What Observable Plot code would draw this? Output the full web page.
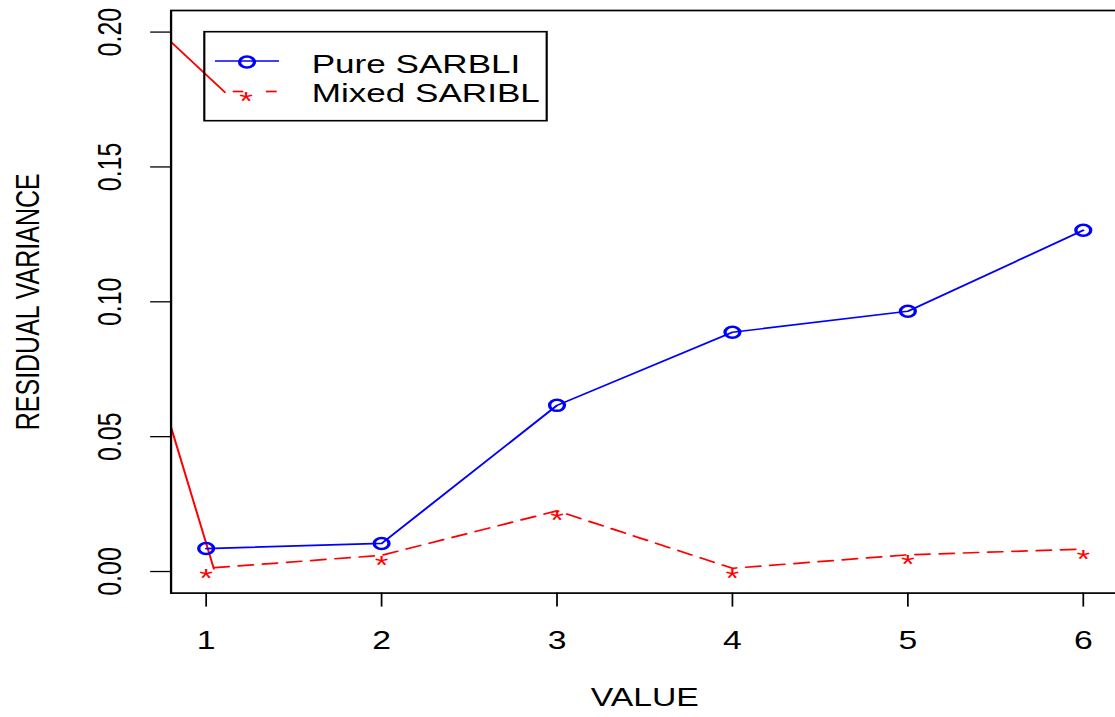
<!DOCTYPE html>
<html><head><meta charset="utf-8">
<script src="https://cdn.jsdelivr.net/npm/d3@7"></script>
<script src="https://cdn.jsdelivr.net/npm/@observablehq/plot@0.6"></script>
<style>html,body{margin:0;padding:0;background:#fff;overflow:hidden}</style>
</head><body><div id="chart"></div>
<script>
// ---- data ----
const xValues = [1, 2, 3, 4, 5, 6];
const pureSARBLI = [0.0085, 0.0104, 0.0616, 0.0887, 0.0965, 0.1265];
const mixedSARIBL = [0.0012, 0.0060, 0.0225, 0.0012, 0.0062, 0.0083];
const seriesNames = ["Pure SARBLI", "Mixed SARIBL"];
const xTicks = [1, 2, 3, 4, 5, 6];
const yTicks = [0.00, 0.05, 0.10, 0.15, 0.20];
// stray solid red segments visible in the original
const strayTopX = [0.8, 1.107];
const strayTopY = [0.1963, 0.1777];
const strayLowX = [0.8, 1.044];
const strayLowY = [0.0535, 0.0010];

// ---- build ----
const S = 1.35;            // horizontal stretch of the original image
const W = 1115 / S, H = 717;
const FONT = "'Liberation Sans', Arial, sans-serif";
const BLUE = "#0000ff", RED = "#ff0000";

const pure = xValues.map((x, i) => ({x, y: pureSARBLI[i]}));
const mixed = xValues.map((x, i) => ({x, y: mixedSARIBL[i]}));
const strayTop = strayTopX.map((x, i) => ({x, y: strayTopY[i]}));
const strayLow = strayLowX.map((x, i) => ({x, y: strayLowY[i]}));

const plot = Plot.plot({
  width: W, height: H,
  marginLeft: 170.4 / S, marginRight: W - 1117.7 / S,
  marginTop: 10, marginBottom: H - 592.6,
  x: {domain: [0.8, 6.2]},
  y: {domain: [-0.008, 0.208]},
  style: {fontFamily: FONT, fontSize: "25px", color: "black", background: "white"},
  marks: [
    Plot.line(strayTop, {x: "x", y: "y", stroke: RED, strokeWidth: 1.5}),
    Plot.line(strayLow, {x: "x", y: "y", stroke: RED, strokeWidth: 1.5}),
    Plot.line(pure, {x: "x", y: "y", stroke: BLUE, strokeWidth: 1.7}),
    Plot.line(mixed, {x: "x", y: "y", stroke: RED, strokeWidth: 1.7, strokeDasharray: "11,7", strokeDashoffset: -6}),
    Plot.dot(pure, {x: "x", y: "y", r: 5.5, stroke: BLUE, strokeWidth: 2.5, fill: "none"}),
    Plot.text(mixed, {x: "x", y: "y", text: () => "*", fill: RED, fontSize: 26, lineAnchor: "top"}),
    Plot.frame({stroke: "black", strokeWidth: 1.7}),
    Plot.axisX({ticks: xTicks, tickSize: 14, tickPadding: 24, fontSize: 25, label: null, strokeWidth: 1.3, tickFormat: d => String(d)}),
    Plot.axisY({ticks: yTicks, tickSize: 15, tickFormat: () => "", label: null, strokeWidth: 1.3}),
    Plot.text(yTicks, {y: d => d, frameAnchor: "left", text: d => d.toFixed(2), rotate: -90, dx: -45,
      textAnchor: "middle", lineAnchor: "middle", fontSize: 25}),
    Plot.text(["RESIDUAL VARIANCE"], {frameAnchor: "left", text: d => d, rotate: -90, dx: -106,
      textAnchor: "middle", lineAnchor: "middle", fontSize: 25}),
    Plot.text(["VALUE"], {frameAnchor: "bottom", text: d => d, dy: 104.4,
      textAnchor: "middle", lineAnchor: "middle", fontSize: 25})
  ]
});

// ---- legend (R-style box, top-left) ----
const svg = d3.select(plot);
const lg = svg.append("g").attr("font-family", FONT).attr("font-size", 26).attr("text-anchor", "start");
lg.append("rect")
  .attr("x", 204.3 / S).attr("y", 31.7)
  .attr("width", (546.7 - 204.3) / S).attr("height", 120.7 - 31.7)
  .attr("fill", "none").attr("stroke", "black").attr("stroke-width", 1.6);
// Pure SARBLI
lg.append("line").attr("x1", 215 / S).attr("x2", 279 / S).attr("y1", 61).attr("y2", 61)
  .attr("stroke", BLUE).attr("stroke-width", 1.7);
lg.append("circle").attr("cx", 247 / S).attr("cy", 62).attr("r", 5.5)
  .attr("fill", "none").attr("stroke", BLUE).attr("stroke-width", 2.5);
lg.append("text").attr("x", 311.7 / S).attr("y", 72.7).attr("fill", "black").text(seriesNames[0]);
// Mixed SARIBL
lg.append("line").attr("x1", 232.7 / S).attr("x2", 243.3 / S).attr("y1", 91.5).attr("y2", 91.5)
  .attr("stroke", RED).attr("stroke-width", 1.7);
lg.append("line").attr("x1", 266 / S).attr("x2", 276.7 / S).attr("y1", 91.5).attr("y2", 91.5)
  .attr("stroke", RED).attr("stroke-width", 1.7);
lg.append("text").attr("x", 246 / S).attr("y", 91.5).attr("dy", "0.71em")
  .attr("text-anchor", "middle").attr("font-size", 26).attr("fill", RED).text("*");
lg.append("text").attr("x", 311.7 / S).attr("y", 101.7).attr("fill", "black").text(seriesNames[1]);

// ---- stretch horizontally like the original ----
plot.setAttribute("width", 1115);
plot.setAttribute("height", 717);
plot.setAttribute("preserveAspectRatio", "none");
plot.style.width = "1115px";
plot.style.height = "717px";
plot.style.maxWidth = "none";
document.getElementById("chart").appendChild(plot);
</script>
</body></html>
